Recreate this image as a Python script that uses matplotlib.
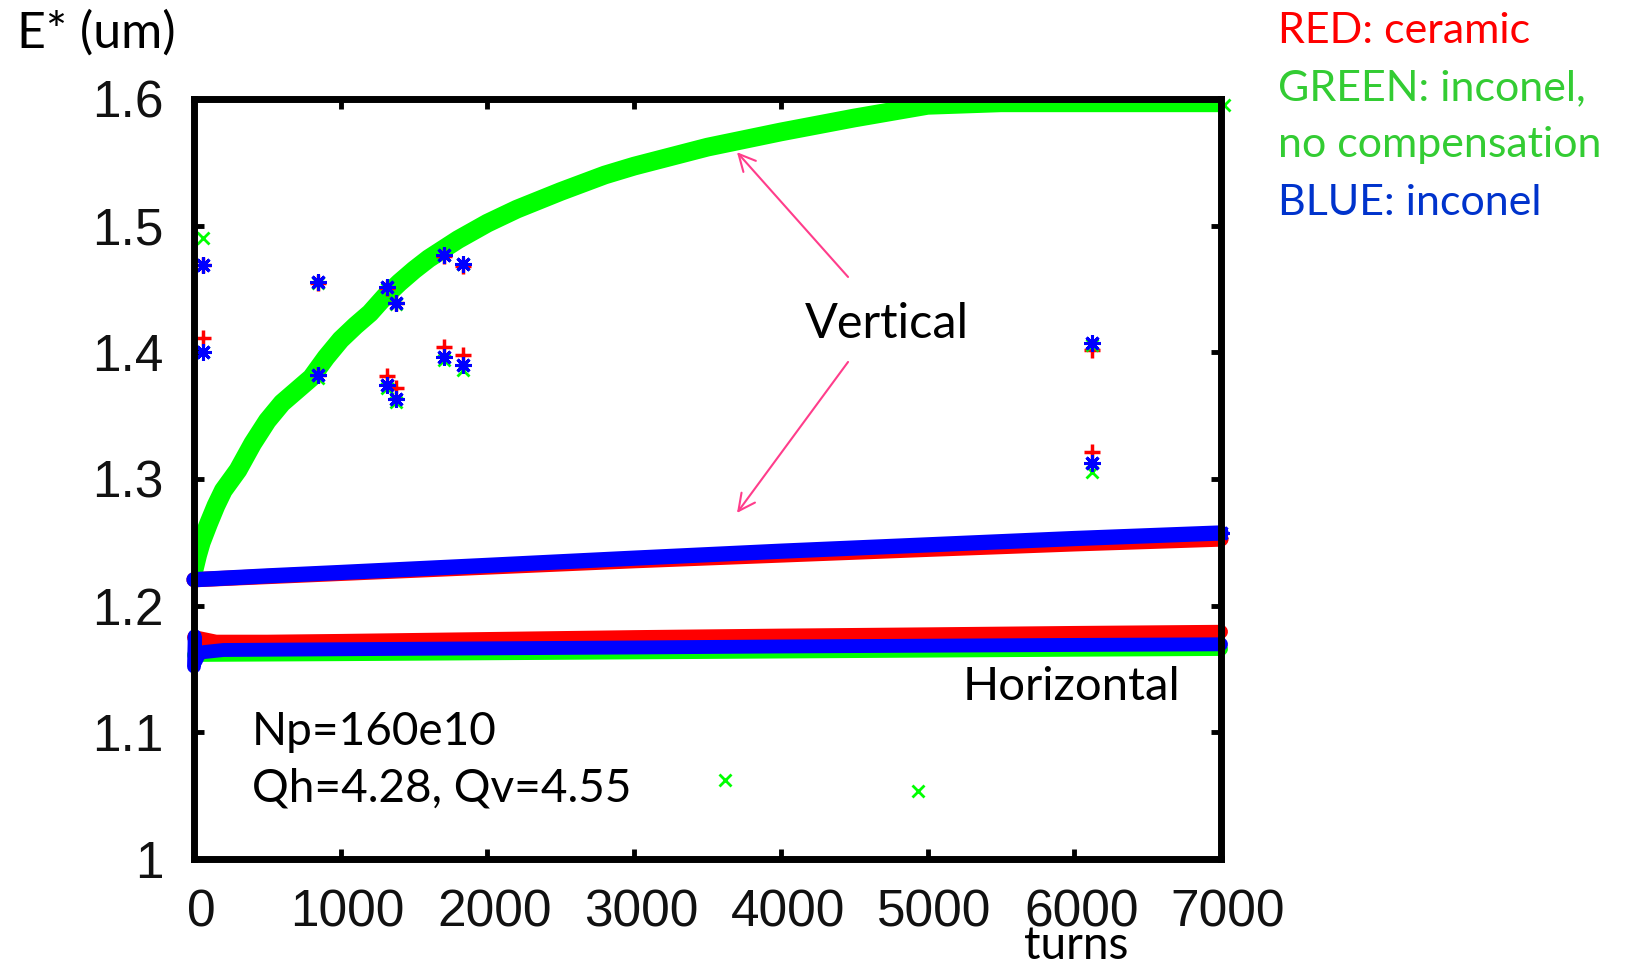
import numpy as np
import matplotlib
matplotlib.use('Agg')
import matplotlib.pyplot as plt
from matplotlib.transforms import ScaledTranslation

# ---- data ----
x_ticks = [0, 1000, 2000, 3000, 4000, 5000, 6000, 7000]
y_ticks = [1.0, 1.1, 1.2, 1.3, 1.4, 1.5, 1.6]
y_tick_labels = ['1', '1.1', '1.2', '1.3', '1.4', '1.5', '1.6']

# vertical emittance
green_v_x = [0, 25, 50, 100, 150, 200, 300, 400, 500, 600, 700, 800, 900, 1000, 1100,
             1200, 1300, 1400, 1500, 1600, 1800, 2000, 2200, 2500, 2800, 3000, 3500,
             4000, 4500, 4800, 5000, 5500, 6000, 7000]
green_v_y = [1.228, 1.240, 1.250, 1.265, 1.279, 1.291, 1.307, 1.328, 1.346, 1.360,
             1.370, 1.380, 1.396, 1.410, 1.421, 1.431, 1.444, 1.455, 1.465, 1.474,
             1.489, 1.502, 1.513, 1.527, 1.540, 1.547, 1.562, 1.574, 1.585, 1.591,
             1.595, 1.597, 1.597, 1.597]
blue_v_x = [0, 500, 1000, 2000, 3000, 4000, 5000, 6000, 7000]
blue_v_y = [1.2205, 1.2235, 1.2262, 1.2318, 1.2375, 1.2430, 1.2480, 1.2530, 1.2574]
red_v_x = [0, 1000, 2000, 3000, 4000, 5000, 6000, 7000]
red_v_y = [1.2205, 1.2255, 1.2305, 1.2355, 1.2400, 1.2445, 1.2488, 1.2526]

# horizontal emittance
red_h_x = [0, 30, 150, 500, 1000, 2000, 3000, 4000, 5000, 6000, 7000]
red_h_y = [1.1750, 1.1745, 1.1716, 1.1716, 1.1722, 1.1737, 1.1752, 1.1764, 1.1774, 1.1785, 1.1794]
blue_h_x = [0, 5, 10, 40, 200, 1000, 2000, 3000, 4000, 5000, 6000, 7000]
blue_h_y = [1.1520, 1.1760, 1.1560, 1.1630, 1.1650, 1.1656, 1.1663, 1.1670, 1.1678, 1.1684, 1.1690, 1.1695]
green_h_x = [0, 1000, 2000, 3000, 4000, 5000, 6000, 7000]
green_h_y = [1.1611, 1.1617, 1.1624, 1.1631, 1.1638, 1.1645, 1.1652, 1.1658]

# scattered outliers
out_x = [63, 63, 845, 845, 1316, 1316, 1377, 1377, 1704, 1704, 1835, 1835, 6121, 6121]
red_out_y = [1.469, 1.411, 1.455, 1.382, 1.451, 1.381, 1.439, 1.372, 1.476, 1.404,
             1.468, 1.398, 1.402, 1.321]
green_out_y = [1.490, 1.400, 1.455, 1.380, 1.450, 1.372, 1.438, 1.361, 1.477, 1.394,
               1.470, 1.386, 1.406, 1.3055]
blue_out_y = [1.469, 1.400, 1.4555, 1.382, 1.4516, 1.374, 1.439, 1.363, 1.477, 1.396,
              1.470, 1.390, 1.407, 1.3126]
green_extra_x = [3619, 4935, 7020]
green_extra_y = [1.062, 1.054, 1.595]
blue_end_x = [7000]
blue_end_y = [1.2574]

RED = '#FF0000'
GREEN = '#00FF00'
BLUE = '#0000FF'

W, H = 1630, 964
fig = plt.figure(figsize=(W / 100, H / 100), dpi=100)
ax = fig.add_axes([194 / W, 1 - 859 / H, 1027 / W, 760 / H])

# bands (red, green, blue order like gnuplot)
ax.plot(red_h_x, red_h_y, color=RED, lw=10, solid_capstyle='round', clip_on=False, zorder=2)
ax.plot(red_v_x, red_v_y, color=RED, lw=11, solid_capstyle='round', clip_on=False, zorder=2)
ax.plot(green_h_x, green_h_y, color=GREEN, lw=10, solid_capstyle='round', clip_on=False, zorder=2.1)
ax.plot(green_v_x, green_v_y, color=GREEN, lw=13.5, solid_capstyle='round',
        solid_joinstyle='round', zorder=2.1)
ax.plot(blue_h_x, blue_h_y, color=BLUE, lw=10, solid_capstyle='round', clip_on=False, zorder=2.2)
ax.plot(blue_v_x, blue_v_y, color=BLUE, lw=11, solid_capstyle='round', clip_on=False, zorder=2.2)

# outliers
ax.plot(out_x, red_out_y, ls='none', marker='+', ms=11, mew=2.5, color=RED, zorder=3)
ax.plot(out_x, green_out_y, ls='none', marker='x', ms=8, mew=2, color=GREEN, zorder=3.1)
ax.plot(green_extra_x, green_extra_y, ls='none', marker='x', ms=8, mew=2, color=GREEN,
        clip_on=False, zorder=3.1)
ax.plot(out_x, blue_out_y, ls='none', marker=(8, 2, 0), ms=12, mew=2.2, color=BLUE, zorder=3.2)
ax.plot(blue_end_x, blue_end_y, ls='none', marker=(8, 2, 0), ms=12, mew=2.2, color=BLUE,
        clip_on=False, zorder=3.2)

ax.set_xlim(0, 7000)
ax.set_ylim(1.0, 1.6)
ax.set_xticks(x_ticks)
ax.set_yticks(y_ticks)
ax.set_yticklabels(y_tick_labels)
for s in ax.spines.values():
    s.set_linewidth(5)
    s.set_zorder(5)
ax.tick_params(direction='in', length=7, width=3.5, top=True, right=True,
               labelsize=37, labelcolor='#111111')
ax.tick_params(axis='y', pad=22)
ax.tick_params(axis='x', pad=21)
for lab in ax.get_xticklabels() + ax.get_yticklabels():
    lab.set_family('Liberation Sans')
shift = ScaledTranslation(7 / 100, 0, fig.dpi_scale_trans)
for lab in ax.get_xticklabels():
    lab.set_transform(lab.get_transform() + shift)

# arrows
pink = '#FF3D8B'
ax.annotate('', xy=(3701, 1.558), xytext=(4458, 1.4595),
            arrowprops=dict(arrowstyle='->', color=pink, lw=1.5, mutation_scale=30,
                            shrinkA=0, shrinkB=0))
ax.annotate('', xy=(3701, 1.2732), xytext=(4458, 1.3924),
            arrowprops=dict(arrowstyle='->', color=pink, lw=1.5, mutation_scale=30,
                            shrinkA=0, shrinkB=0))


def ftext(px, py, s, size, color='black', ha='left'):
    fig.text(px / W, 1 - py / H, s, fontsize=size, color=color, ha=ha, va='baseline',
             family='Lato')


ftext(17, 48, 'E* (um)', 36)
ftext(805, 338, 'Vertical', 35)
ftext(1180, 700, 'Horizontal', 34, ha='right')
ftext(1128, 959, 'turns', 33, ha='right')
ftext(252, 745, 'Np=160e10', 33)
ftext(252, 802, 'Qh=4.28, Qv=4.55', 33)
ftext(1278, 43, 'RED: ceramic', 31, color='#FF0000')
ftext(1278, 100, 'GREEN: inconel,', 31, color='#33CC33')
ftext(1278, 157, 'no compensation', 31, color='#33CC33')
ftext(1278, 215, 'BLUE: inconel', 31, color='#0033CC')

fig.savefig('out.png', dpi=100)
